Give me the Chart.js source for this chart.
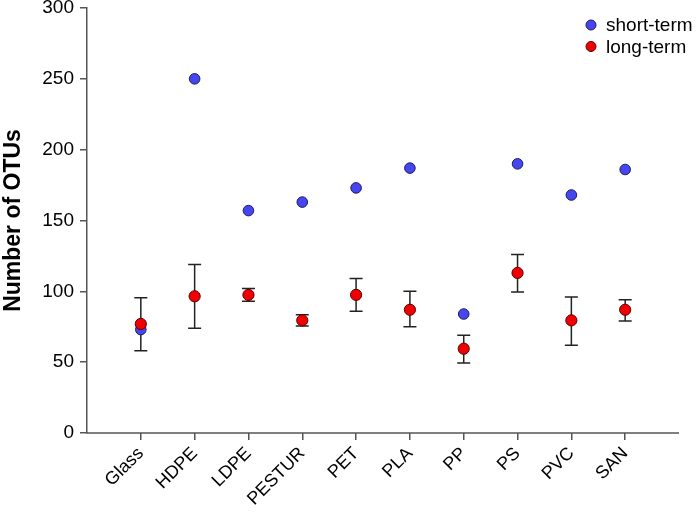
<!DOCTYPE html>
<html><head><meta charset="utf-8">
<script src="https://cdn.jsdelivr.net/npm/chart.js@4/dist/chart.umd.min.js"></script>
<style>html,body{margin:0;padding:0;background:#fff}#wrap{width:696px;height:513px}</style>
</head><body><div id="wrap"><canvas id="c"></canvas></div>
<script>
const categories = ['Glass','HDPE','LDPE','PESTUR','PET','PLA','PP','PS','PVC','SAN'];
const shortTerm = [73, 250, 157, 163, 173, 187, 84, 190, 168, 186];
const longTerm  = [77, 96.5, 97.5, 79.5, 97.5, 87, 59.5, 113, 79.5, 87];
const longLow   = [58, 74, 93, 75.5, 86, 75, 49.5, 99.5, 62, 79];
const longHigh  = [95.5, 119, 102, 83.5, 109, 100, 69, 126, 96, 94];
const yTicks = [0, 50, 100, 150, 200, 250, 300];

const FONT = 'Liberation Sans, Arial, sans-serif';
const axisColor = '#555555';
const blueFill = '#4646F0', blueEdge = '#1c1c60';
const redFill = '#F00000', redEdge = '#5a0000';

const errorBars = {
  id: 'errorBars',
  beforeDatasetsDraw(chart) {
    const ctx = chart.ctx, xs = chart.scales.x, ys = chart.scales.y;
    ctx.save();
    ctx.strokeStyle = axisColor;
    ctx.lineWidth = 1.5;
    const yb = ys.getPixelForValue(0);
    ctx.beginPath();
    ctx.moveTo(xs.getPixelForValue(0) - 0.75, yb);
    ctx.lineTo(xs.getPixelForValue(11), yb);
    ctx.stroke();
    ctx.strokeStyle = '#222';
    categories.forEach((c, i) => {
      const x = xs.getPixelForValue(i + 1);
      const yl = ys.getPixelForValue(longLow[i]);
      const yh = ys.getPixelForValue(longHigh[i]);
      ctx.beginPath();
      ctx.moveTo(x, yl); ctx.lineTo(x, yh);
      ctx.moveTo(x - 6.5, yl); ctx.lineTo(x + 6.5, yl);
      ctx.moveTo(x - 6.5, yh); ctx.lineTo(x + 6.5, yh);
      ctx.stroke();
    });
    ctx.restore();
  }
};

const legendPlugin = {
  id: 'customLegend',
  afterDraw(chart) {
    const ctx = chart.ctx;
    const items = [
      {label: 'short-term', fill: blueFill, stroke: blueEdge, y: 25},
      {label: 'long-term', fill: redFill, stroke: redEdge, y: 46.5}
    ];
    ctx.save();
    ctx.font = '19px ' + FONT;
    ctx.textBaseline = 'middle';
    ctx.textAlign = 'left';
    items.forEach(it => {
      ctx.beginPath();
      ctx.arc(591, it.y, 5, 0, Math.PI * 2);
      ctx.fillStyle = it.fill; ctx.fill();
      ctx.lineWidth = 1; ctx.strokeStyle = it.stroke; ctx.stroke();
      ctx.fillStyle = '#000';
      ctx.fillText(it.label, 606, it.y + 1);
    });
    ctx.restore();
  }
};

new Chart(document.getElementById('c'), {
  type: 'scatter',
  data: {
    datasets: [
      {
        label: 'short-term',
        data: shortTerm.map((v, i) => ({x: i + 1, y: v})),
        backgroundColor: blueFill, borderColor: blueEdge, borderWidth: 1,
        pointRadius: 5.3, order: 2
      },
      {
        label: 'long-term',
        data: longTerm.map((v, i) => ({x: i + 1, y: v})),
        backgroundColor: redFill, borderColor: redEdge, borderWidth: 1,
        pointRadius: 5.6, order: 1
      }
    ]
  },
  options: {
    responsive: true, maintainAspectRatio: false, animation: false,
    layout: {padding: {top: 8, right: 17, left: 0, bottom: 0}},
    plugins: {legend: {display: false}, tooltip: {enabled: false}},
    scales: {
      x: {
        type: 'linear', min: 0, max: 11,
        afterBuildTicks: s => { s.ticks = categories.map((c, i) => ({value: i + 1})); },
        afterFit: s => { s.height = 80; },
        ticks: {
          callback: v => categories[v - 1] || '',
          autoSkip: false, minRotation: 45, maxRotation: 45,
          color: '#000', font: {family: FONT, size: 18}, padding: 3
        },
        grid: {drawOnChartArea: false, drawTicks: true, tickLength: 7, color: axisColor, lineWidth: 1.5},
        border: {display: false}
      },
      y: {
        min: 0, max: 300,
        afterBuildTicks: s => { s.ticks = yTicks.map(v => ({value: v})); },
        afterFit: s => { s.width = 87; s.paddingTop = 0; s.paddingBottom = 0; },
        ticks: {color: '#000', font: {family: FONT, size: 19}, padding: 6},
        grid: {drawOnChartArea: false, drawTicks: true, tickLength: 7, color: axisColor, lineWidth: 1.5},
        border: {display: true, color: axisColor, width: 1.5},
        title: {display: true, text: 'Number of OTUs', color: '#000',
                font: {family: FONT, size: 23, weight: 'bold'}, padding: {top: 0, bottom: 0}}
      }
    }
  },
  plugins: [errorBars, legendPlugin]
});
</script>
</body></html>
